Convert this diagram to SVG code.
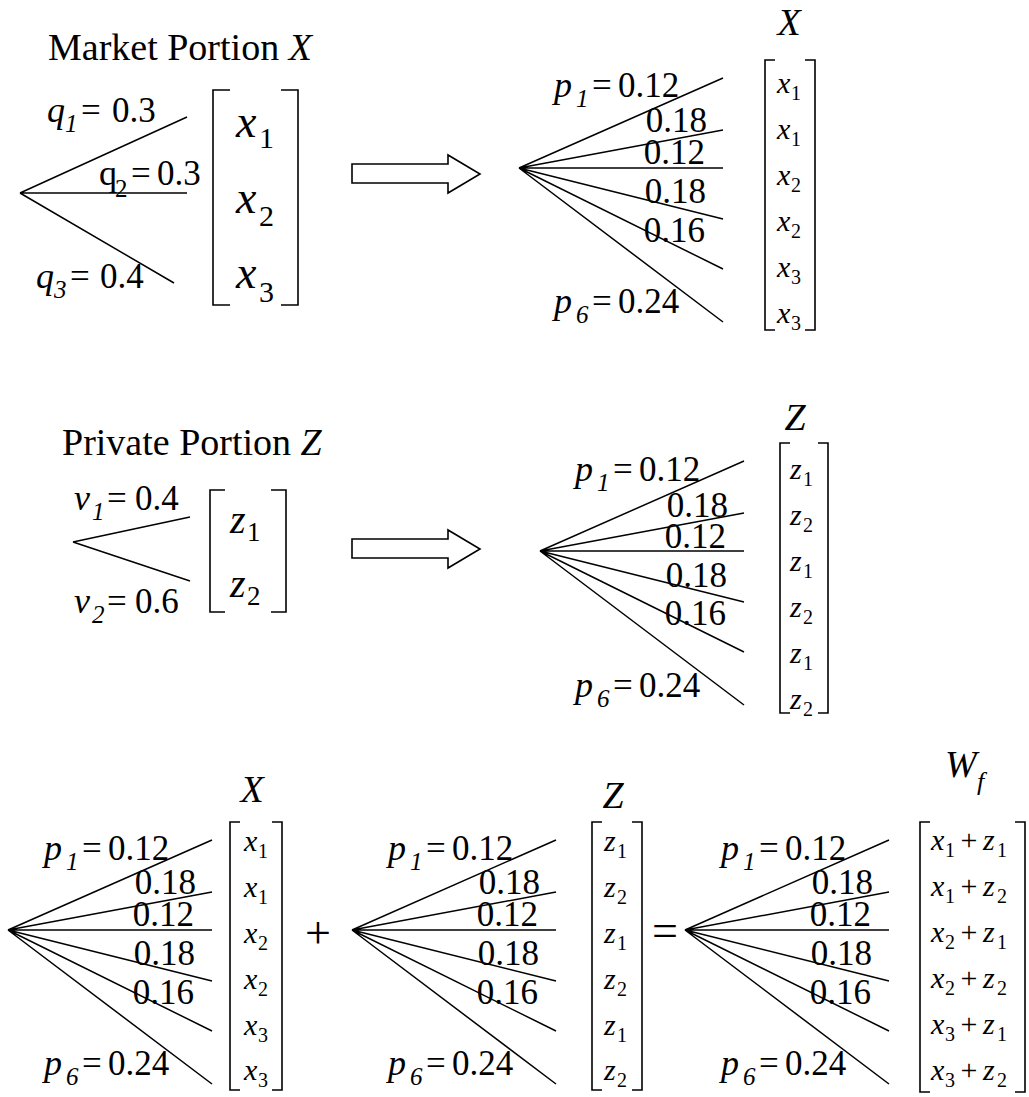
<svg xmlns="http://www.w3.org/2000/svg" width="1029" height="1097" viewBox="0 0 1029 1097">
<style>
text { font-family: "Liberation Serif", "Times New Roman", serif; fill: #000; }
.i{font-style:italic}
.L{font-size:35px}
.V{font-size:36px;font-style:italic}
.S{font-size:25px}
.T{font-size:38px}
.E{font-size:30px;font-style:italic}
.ES{font-size:20px}
.P{font-size:30px;text-anchor:middle}
.end{text-anchor:end}
.mid{text-anchor:middle}
.ln{stroke:#000;stroke-width:1.5;fill:none}
.br{stroke:#000;stroke-width:1.6;fill:none}
.arr{stroke:#000;stroke-width:1.6;fill:#fff}
</style>
<rect width="1029" height="1097" fill="#fff"/>

<g id="connectors">
  <path class="ln" d="M20,193 L187,117 M20,193 L187,193 M20,193 L174,283"/>
  <path class="ln" d="M73,542 L190,517 M73,542 L190,581"/>
  <path class="ln" d="M519,168 L723,78 M519,168 L723,130 M519,168 L723,168 M519,168 L723,219 M519,168 L723,269 M519,168 L723,322"/>
  <path class="ln" d="M540,551 L744,461 M540,551 L744,513 M540,551 L744,551 M540,551 L744,602 M540,551 L744,652 M540,551 L744,705"/>
  <path class="ln" d="M8,930 L212,840 M8,930 L212,892 M8,930 L212,930 M8,930 L212,981 M8,930 L212,1031 M8,930 L212,1084"/>
  <path class="ln" d="M352,930 L556,840 M352,930 L556,892 M352,930 L556,930 M352,930 L556,981 M352,930 L556,1031 M352,930 L556,1084"/>
  <path class="ln" d="M685,930 L889,840 M685,930 L889,892 M685,930 L889,930 M685,930 L889,981 M685,930 L889,1031 M685,930 L889,1084"/>
  <polygon class="arr" points="352,164 448,164 448,155 480,174 448,193 448,183 352,183"/>
  <polygon class="arr" points="352,539 448,539 448,530 480,549 448,568 448,558 352,558"/>
</g>

<g id="market">
  <text x="48" y="60" class="T">Market Portion <tspan class="i">X</tspan></text>
  <text x="47" y="122" class="V">q</text><text x="65" y="132" class="S i">1</text><text x="81" y="122" class="L">=</text><text x="112" y="122" class="L">0.3</text>
  <text x="99" y="185" font-size="36">q</text><text x="115" y="197" class="S">2</text><text x="131" y="185" class="L">=</text><text x="157" y="185" class="L">0.3</text>
  <text x="36" y="288" class="V">q</text><text x="54" y="298" class="S i">3</text><text x="70" y="288" class="L">=</text><text x="100" y="288" class="L">0.4</text>
  <path class="br" d="M230,90 H213 V305 H230 M281,90 H298 V305 H281"/>
  <text x="236" y="137" font-size="46" class="i">x</text><text x="259" y="148" font-size="30">1</text>
  <text x="236" y="213" font-size="46" class="i">x</text><text x="259" y="226" font-size="30">2</text>
  <text x="236" y="288" font-size="46" class="i">x</text><text x="259" y="302" font-size="30">3</text>
</g>

<g id="market-expanded">
  <text x="789" y="35" class="T i mid">X</text>
  <text x="554" y="97" class="V">p</text><text x="576" y="107" class="S i">1</text><text x="592" y="97" class="L">=</text><text x="618" y="97" class="L">0.12</text>
  <text x="707" y="132" class="L end">0.18</text>
  <text x="705" y="164" class="L end">0.12</text>
  <text x="706" y="203" class="L end">0.18</text>
  <text x="705" y="242" class="L end">0.16</text>
  <text x="554" y="313" class="V">p</text><text x="576" y="323" class="S i">6</text><text x="592" y="313" class="L">=</text><text x="618" y="313" class="L">0.24</text>
  <path class="br" d="M775,60 H765 V330 H775 M805,60 H815 V330 H805"/>
  <text x="777" y="93" class="E">x</text><text x="791" y="100" class="ES">1</text>
  <text x="777" y="139" class="E">x</text><text x="791" y="146" class="ES">1</text>
  <text x="777" y="185" class="E">x</text><text x="791" y="192" class="ES">2</text>
  <text x="777" y="231" class="E">x</text><text x="791" y="238" class="ES">2</text>
  <text x="777" y="277" class="E">x</text><text x="791" y="284" class="ES">3</text>
  <text x="777" y="323" class="E">x</text><text x="791" y="330" class="ES">3</text>
</g>

<g id="private">
  <text x="62" y="455" class="T">Private Portion <tspan class="i">Z</tspan></text>
  <text x="74" y="510" class="V">v</text><text x="92" y="520" class="S i">1</text><text x="107" y="510" class="L">=</text><text x="135" y="510" class="L">0.4</text>
  <text x="74" y="613" class="V">v</text><text x="92" y="623" class="S i">2</text><text x="107" y="613" class="L">=</text><text x="135" y="613" class="L">0.6</text>
  <path class="br" d="M225,490 H210 V612 H225 M271,490 H286 V612 H271"/>
  <text x="230" y="533" font-size="40" class="i">z</text><text x="247" y="541" font-size="27">1</text>
  <text x="230" y="597" font-size="40" class="i">z</text><text x="247" y="605" font-size="27">2</text>
</g>

<g id="private-expanded">
  <text x="795" y="430" class="T i mid">Z</text>
  <text x="575" y="481" class="V">p</text><text x="597" y="491" class="S i">1</text><text x="613" y="481" class="L">=</text><text x="639" y="481" class="L">0.12</text>
  <text x="728" y="517" class="L end">0.18</text>
  <text x="726" y="548" class="L end">0.12</text>
  <text x="727" y="587" class="L end">0.18</text>
  <text x="726" y="625" class="L end">0.16</text>
  <text x="575" y="697" class="V">p</text><text x="597" y="707" class="S i">6</text><text x="613" y="697" class="L">=</text><text x="639" y="697" class="L">0.24</text>
  <path class="br" d="M790,443 H780 V713 H790 M818,443 H828 V713 H818"/>
  <text x="790" y="479" class="E">z</text><text x="803" y="486" class="ES">1</text>
  <text x="790" y="525" class="E">z</text><text x="803" y="532" class="ES">2</text>
  <text x="790" y="571" class="E">z</text><text x="803" y="578" class="ES">1</text>
  <text x="790" y="617" class="E">z</text><text x="803" y="624" class="ES">2</text>
  <text x="790" y="663" class="E">z</text><text x="803" y="670" class="ES">1</text>
  <text x="790" y="709" class="E">z</text><text x="803" y="716" class="ES">2</text>
</g>

<g id="sum-x">
  <text x="252" y="802" class="T i mid">X</text>
  <text x="44" y="860" class="V">p</text><text x="66" y="870" class="S i">1</text><text x="82" y="860" class="L">=</text><text x="108" y="860" class="L">0.12</text>
  <text x="196" y="894" class="L end">0.18</text>
  <text x="194" y="926" class="L end">0.12</text>
  <text x="195" y="965" class="L end">0.18</text>
  <text x="194" y="1004" class="L end">0.16</text>
  <text x="44" y="1075" class="V">p</text><text x="66" y="1085" class="S i">6</text><text x="82" y="1075" class="L">=</text><text x="108" y="1075" class="L">0.24</text>
  <path class="br" d="M240,822 H230 V1090 H240 M272,822 H282 V1090 H272"/>
  <text x="244" y="851" class="E">x</text><text x="258" y="858" class="ES">1</text>
  <text x="244" y="897" class="E">x</text><text x="258" y="904" class="ES">1</text>
  <text x="244" y="943" class="E">x</text><text x="258" y="950" class="ES">2</text>
  <text x="244" y="989" class="E">x</text><text x="258" y="996" class="ES">2</text>
  <text x="244" y="1035" class="E">x</text><text x="258" y="1042" class="ES">3</text>
  <text x="244" y="1080" class="E">x</text><text x="258" y="1087" class="ES">3</text>
</g>

<g id="plus"><text x="318" y="948" font-size="46" class="mid">+</text></g>

<g id="sum-z">
  <text x="613" y="808" class="T i mid">Z</text>
  <text x="388" y="860" class="V">p</text><text x="410" y="870" class="S i">1</text><text x="426" y="860" class="L">=</text><text x="452" y="860" class="L">0.12</text>
  <text x="540" y="894" class="L end">0.18</text>
  <text x="538" y="926" class="L end">0.12</text>
  <text x="539" y="965" class="L end">0.18</text>
  <text x="538" y="1004" class="L end">0.16</text>
  <text x="388" y="1075" class="V">p</text><text x="410" y="1085" class="S i">6</text><text x="426" y="1075" class="L">=</text><text x="452" y="1075" class="L">0.24</text>
  <path class="br" d="M602,822 H592 V1090 H602 M632,822 H642 V1090 H632"/>
  <text x="604" y="851" class="E">z</text><text x="617" y="858" class="ES">1</text>
  <text x="604" y="897" class="E">z</text><text x="617" y="904" class="ES">2</text>
  <text x="604" y="943" class="E">z</text><text x="617" y="950" class="ES">1</text>
  <text x="604" y="989" class="E">z</text><text x="617" y="996" class="ES">2</text>
  <text x="604" y="1035" class="E">z</text><text x="617" y="1042" class="ES">1</text>
  <text x="604" y="1080" class="E">z</text><text x="617" y="1087" class="ES">2</text>
</g>

<g id="equals"><text x="665" y="946" font-size="46" class="mid">=</text></g>

<g id="sum-w">
  <text x="945" y="777" class="T i">W</text><text x="977" y="790" font-size="26" class="i">f</text>
  <text x="721" y="860" class="V">p</text><text x="743" y="870" class="S i">1</text><text x="759" y="860" class="L">=</text><text x="785" y="860" class="L">0.12</text>
  <text x="873" y="894" class="L end">0.18</text>
  <text x="871" y="926" class="L end">0.12</text>
  <text x="872" y="965" class="L end">0.18</text>
  <text x="871" y="1004" class="L end">0.16</text>
  <text x="721" y="1075" class="V">p</text><text x="743" y="1085" class="S i">6</text><text x="759" y="1075" class="L">=</text><text x="785" y="1075" class="L">0.24</text>
  <path class="br" d="M930,822 H920 V1092 H930 M1015,822 H1025 V1092 H1015"/>
  <text x="931" y="850" class="E">x</text><text x="945" y="857" class="ES">1</text><text x="969" y="850" class="P">+</text><text x="983" y="850" class="E">z</text><text x="997" y="857" class="ES">1</text>
  <text x="931" y="896" class="E">x</text><text x="945" y="903" class="ES">1</text><text x="969" y="896" class="P">+</text><text x="983" y="896" class="E">z</text><text x="997" y="903" class="ES">2</text>
  <text x="931" y="942" class="E">x</text><text x="945" y="949" class="ES">2</text><text x="969" y="942" class="P">+</text><text x="983" y="942" class="E">z</text><text x="997" y="949" class="ES">1</text>
  <text x="931" y="988" class="E">x</text><text x="945" y="995" class="ES">2</text><text x="969" y="988" class="P">+</text><text x="983" y="988" class="E">z</text><text x="997" y="995" class="ES">2</text>
  <text x="931" y="1034" class="E">x</text><text x="945" y="1041" class="ES">3</text><text x="969" y="1034" class="P">+</text><text x="983" y="1034" class="E">z</text><text x="997" y="1041" class="ES">1</text>
  <text x="931" y="1080" class="E">x</text><text x="945" y="1087" class="ES">3</text><text x="969" y="1080" class="P">+</text><text x="983" y="1080" class="E">z</text><text x="997" y="1087" class="ES">2</text>
</g>
</svg>
